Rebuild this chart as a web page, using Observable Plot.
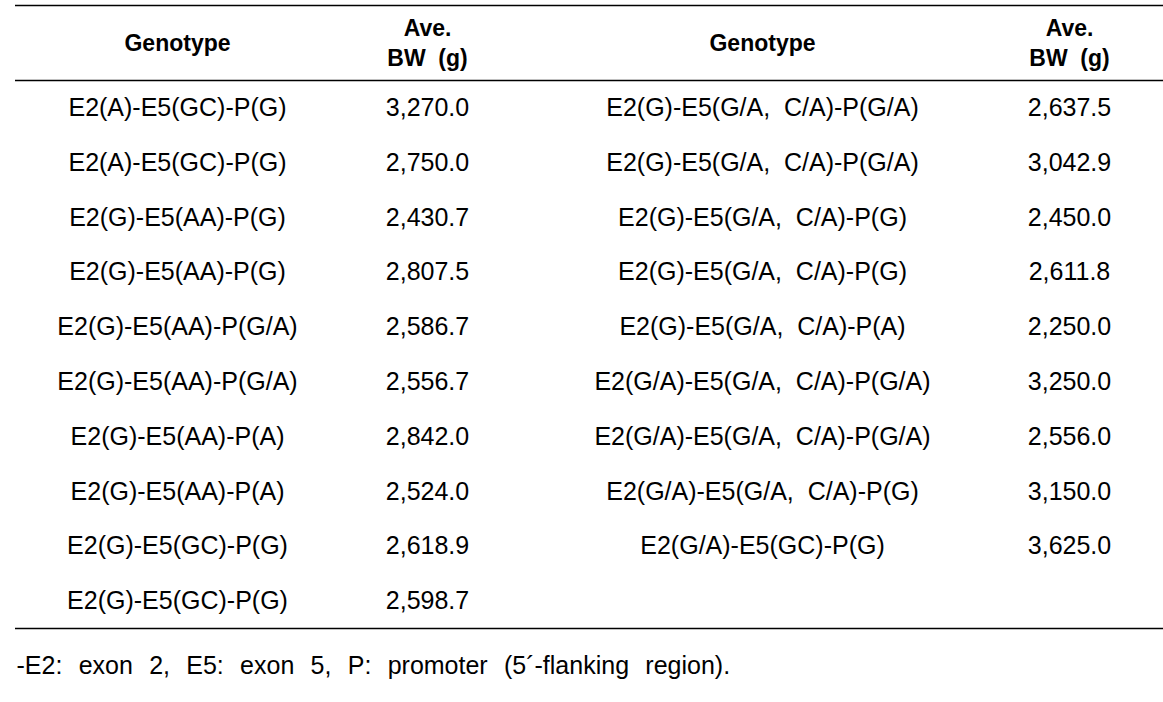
<!DOCTYPE html>
<html>
<head>
<meta charset="utf-8">
<script src="https://cdn.jsdelivr.net/npm/d3@7"></script>
<script src="https://cdn.jsdelivr.net/npm/@observablehq/plot@0.6"></script>
<style>
  html, body { margin: 0; padding: 0; background: #fff; }
  svg text { white-space: pre; }
</style>
</head>
<body>
<div id="chart"></div>
<script>
// ---- data ----
const headers = ["Genotype", "Ave.\nBW  (g)", "Genotype", "Ave.\nBW  (g)"];
const genotypeLeft = [
  "E2(A)-E5(GC)-P(G)", "E2(A)-E5(GC)-P(G)", "E2(G)-E5(AA)-P(G)", "E2(G)-E5(AA)-P(G)",
  "E2(G)-E5(AA)-P(G/A)", "E2(G)-E5(AA)-P(G/A)", "E2(G)-E5(AA)-P(A)", "E2(G)-E5(AA)-P(A)",
  "E2(G)-E5(GC)-P(G)", "E2(G)-E5(GC)-P(G)"
];
const bwLeft = [3270.0, 2750.0, 2430.7, 2807.5, 2586.7, 2556.7, 2842.0, 2524.0, 2618.9, 2598.7];
const genotypeRight = [
  "E2(G)-E5(G/A,  C/A)-P(G/A)", "E2(G)-E5(G/A,  C/A)-P(G/A)", "E2(G)-E5(G/A,  C/A)-P(G)",
  "E2(G)-E5(G/A,  C/A)-P(G)", "E2(G)-E5(G/A,  C/A)-P(A)", "E2(G/A)-E5(G/A,  C/A)-P(G/A)",
  "E2(G/A)-E5(G/A,  C/A)-P(G/A)", "E2(G/A)-E5(G/A,  C/A)-P(G)", "E2(G/A)-E5(GC)-P(G)"
];
const bwRight = [2637.5, 3042.9, 2450.0, 2611.8, 2250.0, 3250.0, 2556.0, 3150.0, 3625.0];
const footnote = "-E2:  exon  2,  E5:  exon  5,  P:  promoter  (5\u00B4-flanking  region).";

// ---- layout (pixels) ----
const W = 1163, H = 702;
const colX = [177, 427, 762, 1069];
const tableLeft = 15, tableTop = 5, headBottom = 80, tableBottom = 628;
const nRows = 10;
const rowH = (tableBottom - headBottom) / nRows;
const fmt = d3.format(",.1f");

const cells = [];
genotypeLeft.forEach((g, i) => cells.push({col: 0, row: i, text: g}));
bwLeft.forEach((v, i) => cells.push({col: 1, row: i, text: fmt(v)}));
genotypeRight.forEach((g, i) => cells.push({col: 2, row: i, text: g}));
bwRight.forEach((v, i) => cells.push({col: 3, row: i, text: fmt(v)}));
const heads = headers.map((h, i) => ({col: i, text: h}));
const rules = [tableTop, headBottom, tableBottom];

const plot = Plot.plot({
  width: W, height: H,
  margin: 0,
  x: {type: "linear", domain: [0, W], range: [0, W], axis: null},
  y: {type: "linear", domain: [0, H], range: [0, H], axis: null},
  style: {fontFamily: "'Liberation Sans', Arial, sans-serif", background: "#fff", color: "#000"},
  marks: [
    Plot.ruleY(rules, {y: d => d, x1: tableLeft, x2: W, stroke: "#000", strokeWidth: 1.5}),
    Plot.text(heads, {x: d => colX[d.col], y: (tableTop + headBottom) / 2 - 2, text: "text",
      fontSize: 23, fontWeight: "bold", lineHeight: 1.3, fill: "#000"}),
    Plot.text(cells, {x: d => colX[d.col], y: d => headBottom + (d.row + 0.5) * rowH, text: "text",
      fontSize: 25, fill: "#000"}),
    Plot.text([footnote], {x: tableLeft + 1, y: 665, text: d => d, textAnchor: "start",
      fontSize: 25, fill: "#000"})
  ]
});
d3.select(plot).selectAll("text")
  .filter(function() { return this.textContent === footnote; })
  .style("word-spacing", "1.2px");
document.getElementById("chart").appendChild(plot);
</script>
</body>
</html>
